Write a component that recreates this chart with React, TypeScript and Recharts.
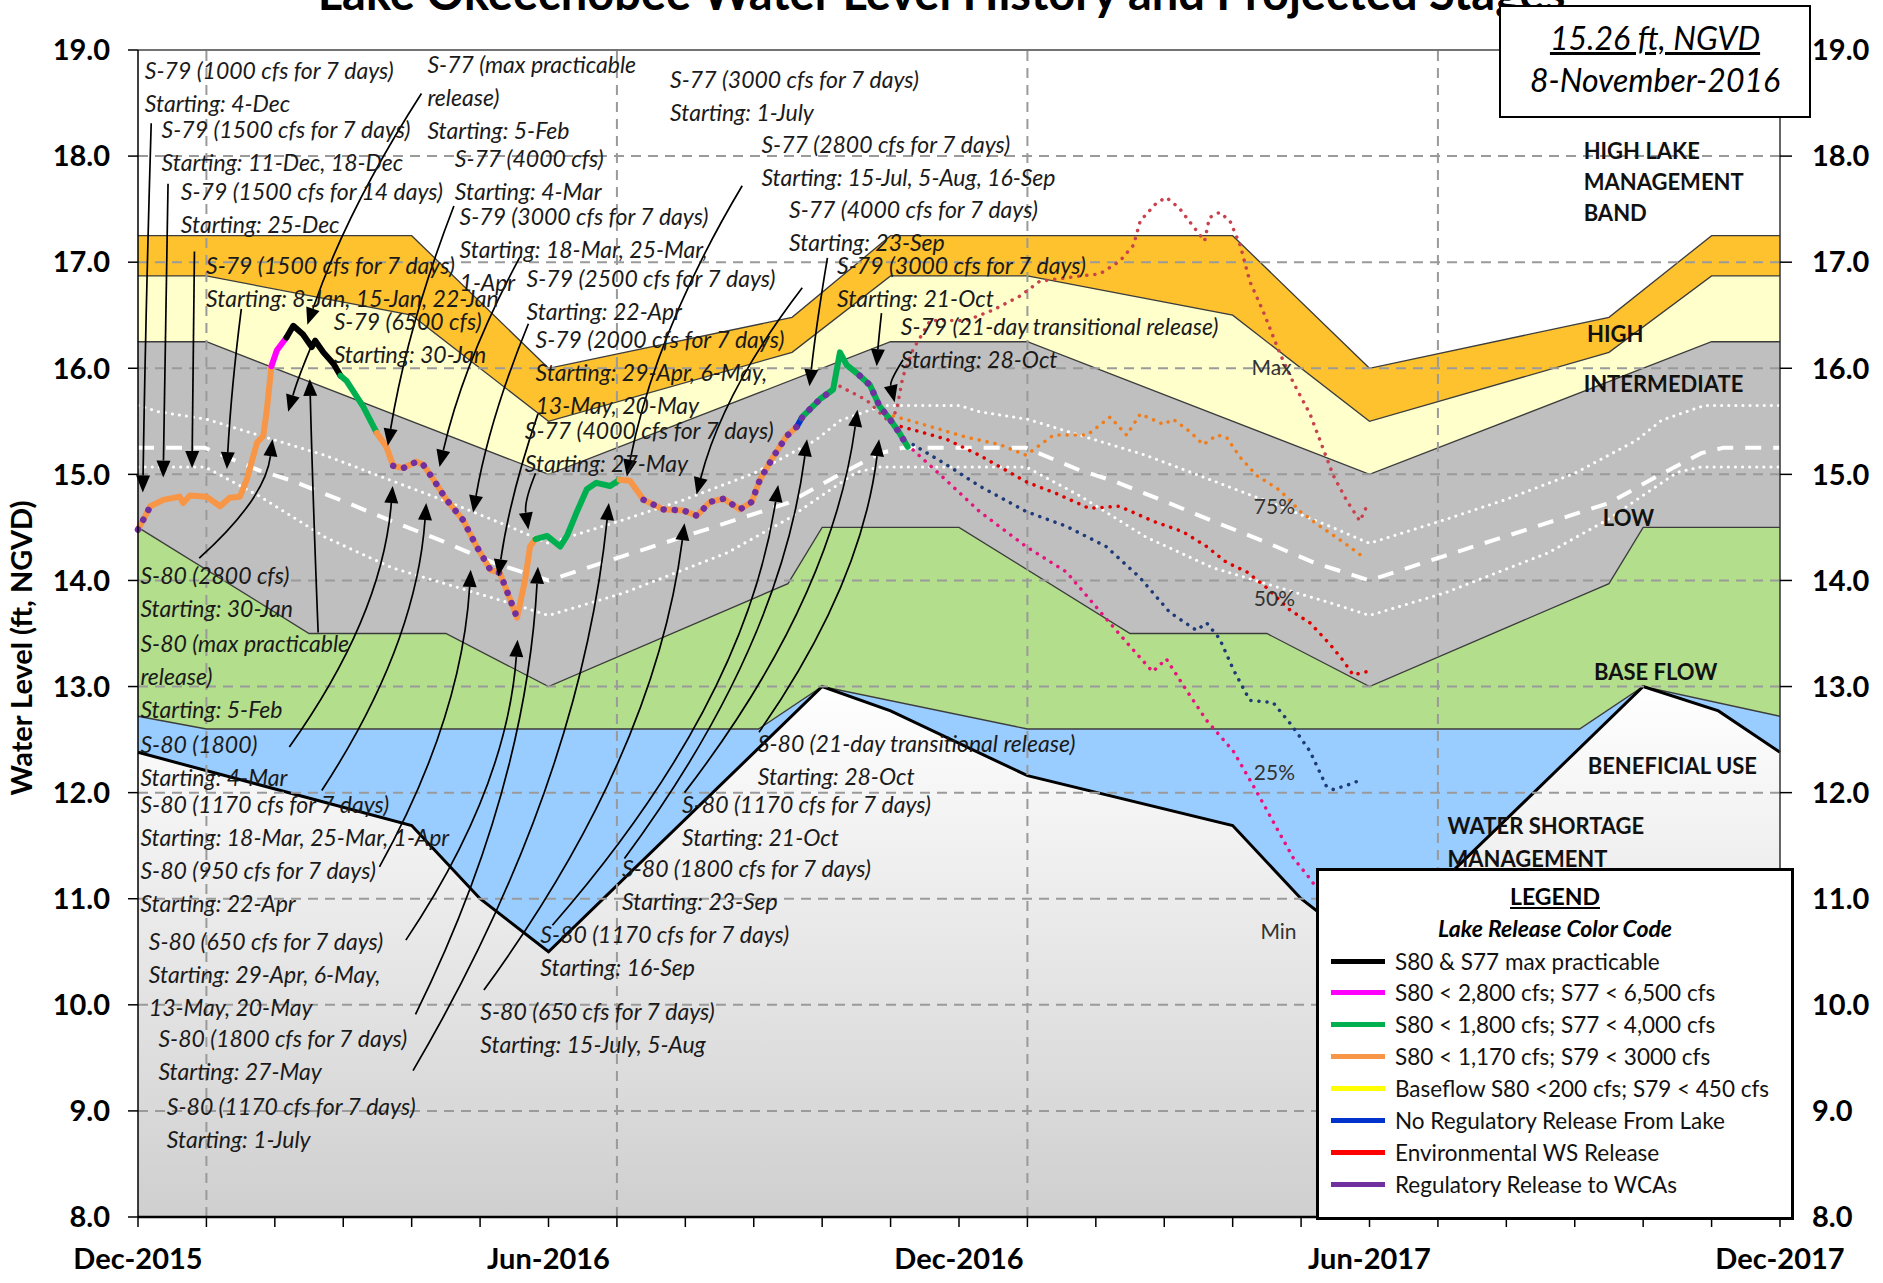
import React from 'react';
import { ComposedChart, Area, Line, XAxis, YAxis, ReferenceLine, ReferenceDot } from 'recharts';

const FONT = "Lato, 'Open Sans', 'DejaVu Sans', sans-serif";

// x = months since 1-Dec-2015, y = stage in ft NGVD
const monthTicks = [0, 1, 2, 3, 4, 5, 6, 7, 8, 9, 10, 11, 12, 13, 14, 15, 16, 17, 18, 19, 20, 21, 22, 23, 24];
const monthLabels: Record<number, string> = { 0: 'Dec-2015', 6: 'Jun-2016', 12: 'Dec-2016', 18: 'Jun-2017', 24: 'Dec-2017' };
const levelTicks = [8, 9, 10, 11, 12, 13, 14, 15, 16, 17, 18, 19];
const gridMonths = [1, 7, 13, 19];
const gridLevels = [9, 10, 11, 12, 13, 14, 15, 16, 17, 18];

// regulation schedule band tops
const highLakeTop = [[0, 17.25], [4, 17.25], [6, 16.0], [9.56, 16.48], [11, 17.25], [16, 17.25], [18, 16.0], [21.5, 16.48], [23, 17.25], [24, 17.25]];
const highTop = [[0, 16.87], [1, 16.87], [4, 16.5], [6, 15.5], [9.56, 16.15], [11, 16.87], [13, 16.87], [16, 16.5], [18, 15.5], [21.5, 16.15], [23, 16.87], [24, 16.87]];
const intermediateTop = [[0, 16.25], [1, 16.25], [6, 15.0], [11, 16.25], [13, 16.25], [18, 15.0], [23, 16.25], [24, 16.25]];
const baseFlowTop = [[0, 14.5], [2.5, 13.5], [4.5, 13.5], [6, 13.0], [9.5, 13.97], [10, 14.5], [12, 14.5], [14.5, 13.5], [16.5, 13.5], [18, 13.0], [21.5, 13.97], [22, 14.5], [24, 14.5]];
const beneficialTop = [[0, 12.72], [1, 12.6], [9.07, 12.6], [10, 13.0], [13, 12.6], [21.07, 12.6], [22, 13.0], [24, 12.72]];
const shortageTop = [[0, 12.38], [4, 11.69], [5, 11.0], [6, 10.5], [10, 13.0], [11, 12.77], [13, 12.16], [16, 11.69], [17, 11.0], [18, 10.5], [22, 13.0], [23.1, 12.77], [24, 12.38]];

// white reference lines inside the low/intermediate zone
const refUpper = [[0, 15.65], [0.3, 15.59], [1, 15.52], [1.76, 15.37], [2.73, 15.18], [3.71, 14.94], [4.69, 14.7], [5.42, 14.51], [6, 14.35], [7.09, 14.57], [7.98, 14.76], [9, 15.01], [9.9, 15.32], [10.27, 15.51], [10.9, 15.65], [12, 15.65], [12.3, 15.59], [13, 15.52], [13.76, 15.37], [14.73, 15.18], [15.71, 14.94], [16.69, 14.7], [17.42, 14.51], [18, 14.35], [19.09, 14.57], [19.98, 14.76], [21, 15.01], [21.9, 15.32], [22.27, 15.51], [22.9, 15.65], [24, 15.65]];
const refMiddle = [[0, 15.25], [0.98, 15.25], [1.76, 15.04], [2.25, 14.94], [2.99, 14.75], [3.71, 14.56], [4.45, 14.37], [5.18, 14.17], [6, 14.0], [7.09, 14.23], [8.3, 14.48], [9.5, 14.73], [10.2, 14.98], [10.85, 15.2], [11.17, 15.25], [12, 15.25], [12.98, 15.25], [13.76, 15.04], [14.25, 14.94], [14.99, 14.75], [15.71, 14.56], [16.45, 14.37], [17.18, 14.17], [18, 14.0], [19.09, 14.23], [20.3, 14.48], [21.5, 14.73], [22.2, 14.98], [22.85, 15.2], [23.17, 15.25], [24, 15.25]];
const refLower = [[0, 15.07], [0.98, 15.07], [1.76, 14.8], [2.73, 14.41], [3.71, 14.12], [4.69, 13.93], [5.42, 13.79], [6, 13.67], [7.09, 13.88], [8.61, 14.26], [9.5, 14.58], [9.88, 14.75], [10.5, 15.02], [10.85, 15.07], [12, 15.07], [12.98, 15.07], [13.76, 14.8], [14.73, 14.41], [15.71, 14.12], [16.69, 13.93], [17.42, 13.79], [18, 13.67], [19.09, 13.88], [20.61, 14.26], [21.5, 14.58], [21.88, 14.75], [22.5, 15.02], [22.85, 15.07], [24, 15.07]];

// observed stage, split by release type
const histOrange1 = [[0, 14.48], [0.1, 14.6], [0.18, 14.7], [0.37, 14.76], [0.61, 14.79], [0.66, 14.73], [0.76, 14.8], [1.0, 14.79], [1.2, 14.7], [1.34, 14.78], [1.49, 14.79], [1.59, 14.95], [1.74, 15.3], [1.83, 15.36], [1.88, 15.59], [1.95, 16.02]];
const histMagenta = [[1.95, 16.02], [2.03, 16.17], [2.17, 16.29]];
const histBlack = [[2.17, 16.29], [2.27, 16.4], [2.41, 16.32], [2.54, 16.2], [2.59, 16.26], [2.71, 16.15], [2.86, 16.04], [2.96, 15.93]];
const histGreen1 = [[2.96, 15.93], [3.05, 15.88], [3.29, 15.64], [3.49, 15.39]];
const histOrange2 = [[3.49, 15.39], [3.63, 15.26], [3.73, 15.08], [3.88, 15.06], [4.07, 15.12], [4.17, 15.09], [4.32, 14.95], [4.51, 14.76], [4.75, 14.57], [4.95, 14.32], [5.15, 14.1], [5.29, 14.07], [5.44, 13.82], [5.54, 13.65], [5.66, 14.01], [5.73, 14.32], [5.81, 14.39]];
const histGreen2 = [[5.81, 14.39], [5.98, 14.42], [6.17, 14.32], [6.27, 14.42], [6.41, 14.64], [6.56, 14.86], [6.7, 14.92], [6.9, 14.89], [7.04, 14.95]];
const histOrange3 = [[7.04, 14.95], [7.19, 14.94], [7.39, 14.76], [7.68, 14.67], [7.97, 14.66], [8.17, 14.61], [8.36, 14.74], [8.56, 14.77], [8.8, 14.67], [8.97, 14.74], [9.09, 14.95], [9.29, 15.17], [9.48, 15.36], [9.63, 15.45]];
const histBlue = [[9.63, 15.45], [9.7, 15.53]];
const histGreen3 = [[9.7, 15.53], [9.72, 15.55], [9.97, 15.71], [10.16, 15.8], [10.26, 16.15], [10.36, 16.03], [10.55, 15.93], [10.7, 15.84], [10.84, 15.64], [10.99, 15.52], [11.13, 15.39], [11.25, 15.26]];
const wcaDots1 = [[0, 14.48], [0.1, 14.6], [0.18, 14.7]];
const wcaDots2 = [[3.73, 15.08], [3.88, 15.06], [4.07, 15.12], [4.17, 15.09], [4.32, 14.95], [4.51, 14.76], [4.75, 14.57], [4.95, 14.32], [5.15, 14.1], [5.29, 14.07], [5.44, 13.82], [5.54, 13.65]];
const wcaDots3 = [[7.39, 14.76], [7.68, 14.67], [7.97, 14.66], [8.17, 14.61], [8.36, 14.74], [8.56, 14.77], [8.8, 14.67], [8.97, 14.74], [9.09, 14.95], [9.29, 15.17], [9.48, 15.36], [9.63, 15.45], [9.72, 15.55], [9.97, 15.71], [10.16, 15.8]];
const wcaDots4 = [[10.55, 15.93], [10.7, 15.84], [10.84, 15.64], [10.99, 15.52], [11.13, 15.39], [11.25, 15.26]];

// projected stages
const projMax = [[10.26, 15.83], [10.65, 15.7], [10.99, 15.49], [11.09, 15.61], [11.18, 15.92], [11.33, 16.18], [11.58, 16.45], [12.11, 16.45], [12.5, 16.55], [12.89, 16.68], [13.18, 16.82], [13.77, 16.87], [14.06, 16.89], [14.35, 17.01], [14.55, 17.16], [14.65, 17.39], [14.89, 17.56], [15.03, 17.61], [15.22, 17.51], [15.42, 17.34], [15.59, 17.2], [15.66, 17.42], [15.81, 17.47], [15.96, 17.39], [16.11, 17.16], [16.25, 16.82], [16.45, 16.53], [16.69, 16.14], [16.89, 15.86], [17.13, 15.57], [17.33, 15.23], [17.47, 14.99], [17.67, 14.75], [17.86, 14.56], [17.96, 14.7]];
const proj75 = [[11.04, 15.55], [11.48, 15.47], [12.11, 15.35], [12.6, 15.28], [12.98, 15.18], [13.38, 15.37], [13.87, 15.37], [14.21, 15.54], [14.45, 15.37], [14.65, 15.57], [14.99, 15.47], [15.13, 15.52], [15.38, 15.4], [15.57, 15.28], [15.77, 15.37], [15.91, 15.35], [16.11, 15.16], [16.35, 14.99], [16.69, 14.85], [16.99, 14.65], [17.28, 14.51], [17.62, 14.36], [17.91, 14.22]];
const proj50 = [[11.04, 15.47], [11.33, 15.42], [11.82, 15.33], [12.3, 15.18], [12.98, 14.93], [13.42, 14.82], [13.9, 14.68], [14.34, 14.7], [14.83, 14.56], [15.27, 14.46], [15.62, 14.32], [15.91, 14.17], [16.21, 14.08], [16.5, 13.93], [16.84, 13.72], [17.13, 13.6], [17.42, 13.4], [17.62, 13.24], [17.76, 13.11], [17.96, 13.14]];
const proj25 = [[11.33, 15.28], [11.82, 15.09], [12.3, 14.89], [12.98, 14.65], [13.57, 14.51], [14.15, 14.32], [14.64, 14.03], [15.08, 13.7], [15.47, 13.53], [15.62, 13.6], [15.81, 13.45], [16.01, 13.16], [16.25, 12.87], [16.59, 12.85], [16.88, 12.62], [17.13, 12.39], [17.37, 12.06], [17.47, 12.03], [17.72, 12.08], [17.91, 12.13]];
const projMin = [[11.33, 15.23], [11.82, 14.94], [12.3, 14.65], [12.98, 14.32], [13.57, 14.08], [14.15, 13.64], [14.54, 13.35], [14.83, 13.14], [15.03, 13.26], [15.32, 12.97], [15.62, 12.68], [16.01, 12.39], [16.35, 12.01], [16.64, 11.67], [16.89, 11.38], [17.13, 11.19], [17.5, 10.85], [17.96, 10.45]];

// release notes: [month, stage of first line, lines]
const notes: [number, number, string[]][] = [
  [0.1, 18.8, ['S-79 (1000 cfs for 7 days)', 'Starting: 4-Dec']],
  [0.345, 18.25, ['S-79 (1500 cfs for 7 days)', 'Starting: 11-Dec, 18-Dec']],
  [0.626, 17.66, ['S-79 (1500 cfs for 14 days)', 'Starting: 25-Dec']],
  [0.994, 16.96, ['S-79 (1500 cfs for 7 days)', 'Starting: 8-Jan, 15-Jan, 22-Jan']],
  [2.86, 16.44, ['S-79 (6500 cfs)', 'Starting: 30-Jan']],
  [4.23, 18.86, ['S-77 (max practicable', 'release)', 'Starting: 5-Feb']],
  [4.63, 17.97, ['S-77 (4000 cfs)', 'Starting: 4-Mar']],
  [4.7, 17.43, ['S-79 (3000 cfs for 7 days)', 'Starting: 18-Mar, 25-Mar,', '1-Apr']],
  [5.68, 16.84, ['S-79 (2500 cfs for 7 days)', 'Starting: 22-Apr']],
  [5.81, 16.27, ['S-79 (2000 cfs for 7 days)', 'Starting: 29-Apr, 6-May,', '13-May, 20-May']],
  [5.653, 15.41, ['S-77 (4000 cfs for 7 days)', 'Starting: 27-May']],
  [7.777, 18.717, ['S-77 (3000 cfs for 7 days)', 'Starting: 1-July']],
  [9.112, 18.105, ['S-77 (2800 cfs for 7 days)', 'Starting: 15-Jul, 5-Aug, 16-Sep']],
  [9.515, 17.493, ['S-77 (4000 cfs for 7 days)', 'Starting: 23-Sep']],
  [10.218, 16.961, ['S-79 (3000 cfs for 7 days)', 'Starting: 21-Oct']],
  [11.148, 16.394, ['S-79 (21-day transitional release)', 'Starting: 28-Oct']],
  [0.035, 14.038, ['S-80 (2800 cfs)', 'Starting: 30-Jan']],
  [0.035, 13.404, ['S-80 (max practicable', 'release)', 'Starting: 5-Feb']],
  [0.035, 12.452, ['S-80 (1800)', 'Starting: 4-Mar']],
  [0.035, 11.886, ['S-80 (1170 cfs for 7 days)', 'Starting: 18-Mar, 25-Mar, 1-Apr']],
  [0.035, 11.262, ['S-80 (950 cfs for 7 days)', 'Starting: 22-Apr']],
  [0.158, 10.594, ['S-80 (650 cfs for 7 days)', 'Starting: 29-Apr, 6-May,', '13-May, 20-May']],
  [0.298, 9.676, ['S-80 (1800 cfs for 7 days)', 'Starting: 27-May']],
  [0.421, 9.042, ['S-80 (1170 cfs for 7 days)', 'Starting: 1-July']],
  [5.004, 9.937, ['S-80 (650 cfs for 7 days)', 'Starting: 15-July, 5-Aug']],
  [5.881, 10.662, ['S-80 (1170 cfs for 7 days)', 'Starting: 16-Sep']],
  [7.075, 11.285, ['S-80 (1800 cfs for 7 days)', 'Starting: 23-Sep']],
  [7.953, 11.886, ['S-80 (1170 cfs for 7 days)', 'Starting: 21-Oct']],
  [9.059, 12.463, ['S-80 (21-day transitional release)', 'Starting: 28-Oct']],
];

// callout arrows: [from month, from stage, to month, to stage, bend]
const arrows = [
  [0.193, 18.31, 0.07, 14.83, 0.35], [0.439, 17.74, 0.369, 14.97, 0.4], [0.825, 17.1, 0.79, 15.06, 0.4],
  [1.51, 16.56, 1.299, 15.05, 0.3], [4.143, 18.59, 2.475, 16.41, 0.35], [2.581, 16.28, 2.195, 15.59, 0.4],
  [4.617, 17.53, 3.652, 15.27, 0.3], [5.583, 17.05, 4.407, 15.07, 0.3], [5.706, 16.42, 4.898, 14.64, 0.3],
  [5.846, 15.57, 5.267, 14.04, 0.3], [5.811, 15.01, 5.706, 14.48, -0.6], [8.831, 17.72, 7.145, 14.98, 0.25],
  [9.709, 16.76, 8.164, 14.81, 0.25], [10.077, 17.04, 9.814, 15.83, 0.4], [10.867, 16.52, 10.797, 16.02, 0.4],
  [11.183, 16.08, 11.06, 15.68, -0.6], [0.895, 14.21, 1.966, 15.33, 0.1], [2.633, 13.51, 2.511, 15.9, 0.4],
  [2.212, 12.43, 3.722, 14.89, 0.1], [2.686, 12.02, 4.213, 14.73, 0.1], [3.529, 11.3, 4.863, 14.1, 0.1],
  [3.915, 10.61, 5.548, 13.44, 0.1], [4.056, 9.91, 5.846, 14.13, 0.1], [4.02, 9.38, 6.882, 14.73, 0.15],
  [5.056, 10.14, 7.988, 14.54, 0.15], [6.057, 10.75, 9.357, 14.9, 0.15], [7.11, 11.38, 9.779, 15.33, 0.15],
  [7.988, 12.0, 10.516, 15.61, 0.15], [9.077, 12.57, 10.832, 15.33, 0.15],
];

const zoneLabels: [number, number, string][] = [
  [21.13, 18.045, 'HIGH LAKE'], [21.13, 17.75, 'MANAGEMENT'], [21.13, 17.465, 'BAND'],
  [21.18, 16.32, 'HIGH'], [21.13, 15.85, 'INTERMEDIATE'], [21.41, 14.59, 'LOW'],
  [21.28, 13.135, 'BASE FLOW'], [21.19, 12.25, 'BENEFICIAL USE'],
  [19.14, 11.68, 'WATER SHORTAGE'], [19.14, 11.37, 'MANAGEMENT'],
];
const pctLabels: [number, number, string][] = [
  [16.57, 16.01, 'Max'], [16.61, 14.7, '75%'], [16.61, 13.83, '50%'], [16.61, 12.19, '25%'], [16.67, 10.685, 'Min'],
];

const legendItems = [
  ['#000000', 'S80 & S77 max practicable'],
  ['#FF00FF', 'S80 < 2,800 cfs; S77 < 6,500 cfs'],
  ['#00B050', 'S80 < 1,800 cfs; S77 < 4,000 cfs'],
  ['#F79646', 'S80 < 1,170 cfs; S79 < 3000 cfs'],
  ['#FFFF00', 'Baseflow S80 <200 cfs; S79 < 450 cfs'],
  ['#0033CC', 'No Regulatory Release From Lake'],
  ['#FF0000', 'Environmental WS Release'],
  ['#7030A0', 'Regulatory Release to WCAs'],
];

const pts = (arr: number[][]) => arr.map(([m, v]) => ({ m, v }));

function ArrowShape(props: any) {
  const { x1, y1, x2, y2, bend } = props;
  if (x1 == null) return null;
  const cx = x2 + (x1 - x2) * bend;
  const cy = (y1 + y2) / 2;
  const dx = x2 - cx;
  const dy = y2 - cy;
  const len = Math.hypot(dx, dy) || 1;
  const ux = dx / len;
  const uy = dy / len;
  const L = 17;
  const W = 7;
  const bx = x2 - ux * L;
  const by = y2 - uy * L;
  return (
    <g>
      <path d={`M${x1},${y1} Q${cx},${cy} ${bx},${by}`} fill="none" stroke="#000" strokeWidth={1.7} />
      <polygon points={`${x2},${y2} ${bx - uy * W},${by + ux * W} ${bx + uy * W},${by - ux * W}`} fill="#000" />
    </g>
  );
}

function TextBlock({ cx, cy, lines, style }: any) {
  if (cx == null) return null;
  return (
    <text x={cx} y={cy} style={style}>
      {lines.map((t: string, i: number) => (
        <tspan key={i} x={cx} dy={i === 0 ? '0.35em' : 33}>{t}</tspan>
      ))}
    </text>
  );
}

const noteStyle = { fontFamily: FONT, fontStyle: 'italic', fontSize: 23, fill: '#1a1a1a' } as const;
const zoneStyle = { fontFamily: FONT, fontWeight: 700, fontSize: 22, fill: '#111' } as const;
const pctStyle = { fontFamily: FONT, fontSize: 21, fill: '#333', textAnchor: 'middle' } as const;

const histLine = (data: number[][], color: string, key: string) => (
  <Line key={key} data={pts(data)} dataKey="v" type="linear" stroke={color} strokeWidth={6}
    strokeLinejoin="round" strokeLinecap="round" dot={false} activeDot={false} isAnimationActive={false} />
);
const dotLine = (data: number[][], color: string, key: string, w = 3.5, gap = 8) => (
  <Line key={key} data={pts(data)} dataKey="v" type="linear" stroke={color} strokeWidth={w}
    strokeDasharray={`0.1 ${gap}`} strokeLinecap="round" dot={false} activeDot={false} isAnimationActive={false} />
);
const band = (data: number[][], fill: string, key: string, stroke = '#3c3c3c', sw = 1.3) => (
  <Area key={key} data={pts(data)} dataKey="v" type="linear" baseValue={8} fill={fill} fillOpacity={1}
    stroke={stroke} strokeWidth={sw} dot={false} activeDot={false} isAnimationActive={false} />
);

export default function App() {
  const tickFont = { fontFamily: FONT, fontSize: 29, fontWeight: 700, fill: '#000' };
  return (
    <div style={{ position: 'relative', width: 1883, height: 1283, background: '#fff', fontFamily: FONT, overflow: 'hidden' }}>
      <style>{'body{margin:0}'}</style>
      <svg width={0} height={0} style={{ position: 'absolute' }}>
        <defs>
          <linearGradient id="wsGrad" x1="0" y1="0" x2="0" y2="1">
            <stop offset="0%" stopColor="#ffffff" />
            <stop offset="100%" stopColor="#cfcfcf" />
          </linearGradient>
        </defs>
      </svg>
      <ComposedChart width={1883} height={1283} margin={{ top: 50, right: 3, bottom: 6, left: 38 }}>
        <XAxis type="number" dataKey="m" domain={[0, 24]} ticks={monthTicks} interval={0}
          tickFormatter={(v: number) => monthLabels[v] ?? ''} tick={tickFont} tickSize={10} tickMargin={21}
          height={60} axisLine={{ stroke: '#000', strokeWidth: 2.5 }} tickLine={{ stroke: '#000', strokeWidth: 1.5 }} />
        <YAxis type="number" domain={[8, 19]} ticks={levelTicks} interval={0} width={100}
          tickFormatter={(v: number) => v.toFixed(1)} tick={tickFont} tickSize={10} tickMargin={18}
          axisLine={{ stroke: '#000', strokeWidth: 1.5 }} tickLine={{ stroke: '#000', strokeWidth: 1.5 }} />
        <YAxis yAxisId="right" orientation="right" type="number" domain={[8, 19]} ticks={levelTicks} interval={0} width={100}
          tickFormatter={(v: number) => v.toFixed(1)} tick={tickFont} tickSize={12} tickMargin={20}
          axisLine={{ stroke: '#333', strokeWidth: 1.5 }} tickLine={{ stroke: '#000', strokeWidth: 1.5 }} />

        {band(highLakeTop, '#FDC22E', 'bA')}
        {band(highTop, '#FFFFCC', 'bB')}
        {band(intermediateTop, '#BFBFBF', 'bC')}
        {band(baseFlowTop, '#B3DE8C', 'bD')}
        {band(beneficialTop, '#99CCFF', 'bE')}
        {band(shortageTop, 'url(#wsGrad)', 'bF', '#000', 3)}
        <Line yAxisId="right" data={pts(highLakeTop)} dataKey="v" stroke="none" dot={false} activeDot={false} isAnimationActive={false} />

        {gridLevels.map((v) => (
          <ReferenceLine key={'gy' + v} y={v} stroke="#9a9a9a" strokeWidth={2} strokeDasharray="10 7" ifOverflow="visible" />
        ))}
        {gridMonths.map((m) => (
          <ReferenceLine key={'gx' + m} x={m} stroke="#9a9a9a" strokeWidth={2} strokeDasharray="10 7" ifOverflow="visible" />
        ))}
        <ReferenceLine y={19} stroke="#444" strokeWidth={1.5} ifOverflow="visible" />

        {dotLine(refUpper, '#ffffff', 'rU', 3, 7)}
        <Line data={pts(refMiddle)} dataKey="v" type="linear" stroke="#ffffff" strokeWidth={4} strokeDasharray="16 12"
          dot={false} activeDot={false} isAnimationActive={false} />
        {dotLine(refLower, '#ffffff', 'rL', 3, 7)}

        {dotLine(projMax, '#C8424E', 'pMax')}
        {dotLine(proj75, '#F07D1A', 'p75')}
        {dotLine(proj50, '#E00000', 'p50')}
        {dotLine(proj25, '#1F3A78', 'p25')}
        {dotLine(projMin, '#E6157E', 'pMin')}

        {histLine(histOrange1, '#F79646', 'h1')}
        {histLine(histMagenta, '#FF00FF', 'h2')}
        {histLine(histBlack, '#000000', 'h3')}
        {histLine(histGreen1, '#00B050', 'h4')}
        {histLine(histOrange2, '#F79646', 'h5')}
        {histLine(histGreen2, '#00B050', 'h6')}
        {histLine(histOrange3, '#F79646', 'h7')}
        {histLine(histBlue, '#0033CC', 'h8')}
        {histLine(histGreen3, '#00B050', 'h9')}
        {dotLine(wcaDots1, '#7030A0', 'w1', 6.5, 11)}
        {dotLine(wcaDots2, '#7030A0', 'w2', 6.5, 11)}
        {dotLine(wcaDots3, '#7030A0', 'w3', 6.5, 11)}
        {dotLine(wcaDots4, '#7030A0', 'w4', 6.5, 11)}

        {arrows.map((a, i) => (
          <ReferenceLine key={'a' + i} segment={[{ x: a[0], y: a[1] }, { x: a[2], y: a[3] }]} ifOverflow="visible"
            shape={(p: any) => <ArrowShape {...p} bend={a[4]} />} />
        ))}
        {notes.map(([m, v, lines], i) => (
          <ReferenceDot key={'n' + i} x={m} y={v} r={0} ifOverflow="visible"
            shape={(p: any) => <TextBlock cx={p.cx} cy={p.cy} lines={lines} style={noteStyle} />} />
        ))}
        {zoneLabels.map(([m, v, t], i) => (
          <ReferenceDot key={'z' + i} x={m} y={v} r={0} ifOverflow="visible"
            shape={(p: any) => <TextBlock cx={p.cx} cy={p.cy} lines={[t]} style={zoneStyle} />} />
        ))}
        {pctLabels.map(([m, v, t], i) => (
          <ReferenceDot key={'p' + i} x={m} y={v} r={0} ifOverflow="visible"
            shape={(p: any) => <TextBlock cx={p.cx} cy={p.cy} lines={[t]} style={pctStyle} />} />
        ))}
      </ComposedChart>

      <div style={{ position: 'absolute', left: 0, top: -31, width: 1883, textAlign: 'center', fontSize: 47, fontWeight: 700, lineHeight: '47px', color: '#000', whiteSpace: 'nowrap' }}>
        Lake Okeechobee Water Level History and Projected Stages
      </div>
      <div style={{ position: 'absolute', left: 8, top: 648, width: 0, height: 0 }}>
        <div style={{ position: 'absolute', transform: 'translate(-50%, -50%) rotate(-90deg)', left: 12, top: 0, whiteSpace: 'nowrap', fontSize: 29, fontWeight: 700 }}>
          Water Level (ft, NGVD)
        </div>
      </div>

      <div style={{ position: 'absolute', left: 1499, top: 5, width: 312, height: 113, boxSizing: 'border-box', border: '2px solid #000', background: '#fff', textAlign: 'center', fontStyle: 'italic' }}>
        <div style={{ position: 'absolute', top: 12, width: '100%', fontSize: 32, lineHeight: '38px', textDecoration: 'underline' }}>15.26 ft, NGVD</div>
        <div style={{ position: 'absolute', top: 54, width: '100%', fontSize: 32, lineHeight: '38px' }}>8-November-2016</div>
      </div>

      <div style={{ position: 'absolute', left: 1316, top: 868, width: 478, height: 352, boxSizing: 'border-box', border: '3px solid #000', background: '#fff' }}>
        <div style={{ position: 'absolute', top: 11, width: '100%', textAlign: 'center', fontSize: 23, fontWeight: 700, lineHeight: '28px', textDecoration: 'underline' }}>LEGEND</div>
        <div style={{ position: 'absolute', top: 43, width: '100%', textAlign: 'center', fontSize: 23, fontWeight: 700, fontStyle: 'italic', lineHeight: '28px' }}>Lake Release Color Code</div>
        {legendItems.map(([c, t], i) => (
          <div key={i} style={{ position: 'absolute', left: 12, top: 75 + i * 31.9, height: 30, display: 'flex', alignItems: 'center' }}>
            <div style={{ width: 54, height: 5, background: c, marginRight: 10 }} />
            <div style={{ fontSize: 22.5, whiteSpace: 'nowrap', color: '#111' }}>{t}</div>
          </div>
        ))}
      </div>
    </div>
  );
}
